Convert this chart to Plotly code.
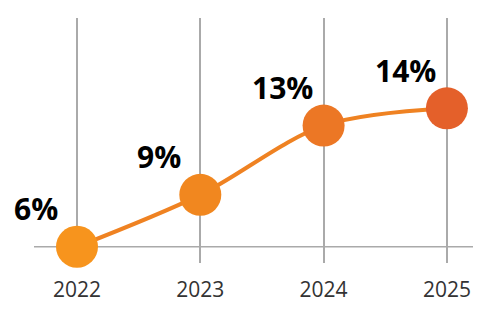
import plotly.graph_objects as go

years = ["2022", "2023", "2024", "2025"]
values = [6, 9, 13, 14]
labels = ["6%", "9%", "13%", "14%"]
marker_colors = ["#F7941D", "#F1871F", "#EC7725", "#E4602A"]

xpos = list(range(len(years)))

fig = go.Figure()
fig.add_trace(go.Scatter(
    x=xpos, y=values, mode="lines",
    line=dict(color="#EF8222", width=4, shape="spline", smoothing=0.9),
    hoverinfo="skip", showlegend=False, cliponaxis=False,
))
fig.add_trace(go.Scatter(
    x=xpos, y=values, mode="markers",
    marker=dict(size=42, color=marker_colors, line=dict(width=0)),
    showlegend=False, cliponaxis=False,
))

for x, y, t in zip(xpos, values, labels):
    fig.add_annotation(
        x=x, y=y, text=t, showarrow=False,
        xanchor="center", yanchor="middle",
        xshift=-41, yshift=38,
        font=dict(family="Open Sans", size=30, color="#000000", weight="bold"),
    )

# baseline
fig.add_shape(type="line", xref="paper", yref="y",
              x0=34/486, x1=473/486, y0=6, y1=6,
              line=dict(color="#AAAAAA", width=1.5), layer="below")

fig.update_layout(
    width=486, height=312,
    margin=dict(l=0, r=0, t=18, b=49),
    paper_bgcolor="white", plot_bgcolor="white",
    xaxis=dict(
        range=[-77/123.3, (486-77)/123.3],
        tickmode="array", tickvals=xpos, ticktext=years,
        showgrid=True, gridcolor="#AAAAAA", gridwidth=1.5,
        zeroline=False, showline=False, ticks="",
        tickfont=dict(family="Open Sans", size=21, color="#333333"),
        ticklabelstandoff=12,
    ),
    yaxis=dict(
        range=[5.06, 19.22], visible=False, showgrid=False, zeroline=False,
    ),
)

fig.write_html("out.html")
